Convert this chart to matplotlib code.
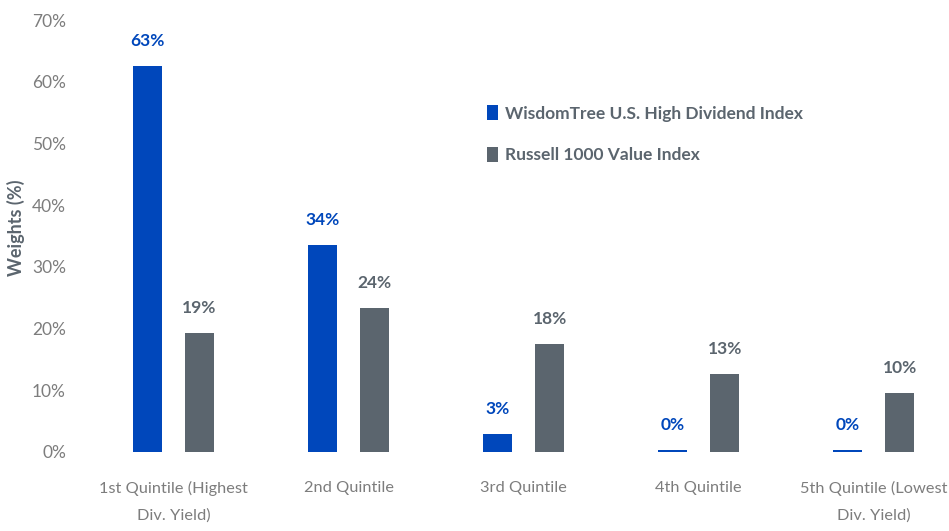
import matplotlib
matplotlib.use("Agg")
import matplotlib.pyplot as plt
import numpy as np

categories = ["1st Quintile (Highest\nDiv. Yield)", "2nd Quintile", "3rd Quintile",
              "4th Quintile", "5th Quintile (Lowest\nDiv. Yield)"]
wisdomtree = [62.5, 33.5, 2.9, 0.25, 0.25]
russell = [19.3, 23.3, 17.5, 12.7, 9.6]
wisdomtree_labels = ["63%", "34%", "3%", "0%", "0%"]
russell_labels = ["19%", "24%", "18%", "13%", "10%"]
yticks = [0, 10, 20, 30, 40, 50, 60, 70]
series_names = ["WisdomTree U.S. High Dividend Index", "Russell 1000 Value Index"]

BLUE = "#0047BB"
GRAY = "#5B656E"
TICK = "#7d7d7d"

plt.rcParams["font.family"] = ["Lato", "DejaVu Sans"]

fig = plt.figure(figsize=(9.49, 5.31), dpi=100)
ax = fig.add_axes([0.09, 0.149, 0.91, 0.813])

x = np.arange(len(categories))
w = 0.166
off = 0.149
b1 = ax.bar(x - off, wisdomtree, w, color=BLUE)
b2 = ax.bar(x + off, russell, w, color=GRAY)

for rect, lab in zip(b1, wisdomtree_labels):
    ax.annotate(lab, (rect.get_x() + rect.get_width() / 2, rect.get_height()),
                xytext=(0, 18), textcoords="offset points", ha="center", va="center",
                color=BLUE, fontsize=12.5, fontweight="bold")
for rect, lab in zip(b2, russell_labels):
    ax.annotate(lab, (rect.get_x() + rect.get_width() / 2, rect.get_height()),
                xytext=(0, 18), textcoords="offset points", ha="center", va="center",
                color=GRAY, fontsize=12.5, fontweight="bold")

ax.set_ylim(0, 70)
ax.set_xlim(-0.503, 4.43)
ax.set_yticks(yticks)
ax.set_yticklabels([f"{t}%" for t in yticks])
ax.set_xticks(x)
ax.set_xticklabels(categories, linespacing=2.1, va="top")
ax.tick_params(axis="both", length=0, colors=TICK, labelsize=12.5)
ax.tick_params(axis="x", labelsize=11.8, pad=21)
ax.tick_params(axis="y", pad=14)
for s in ax.spines.values():
    s.set_visible(False)

ax.set_ylabel("Weights (%)", color=GRAY, fontsize=13, fontweight="bold")
ax.yaxis.set_label_coords(-0.07, 0.52)

leg = ax.legend([b1, b2], series_names, loc="upper left", bbox_to_anchor=(0.447, 0.84),
                frameon=False, handlelength=0.65, handleheight=1.0, handletextpad=0.4,
                labelspacing=1.45, prop={"weight": "bold", "size": 12.5})
for t in leg.get_texts():
    t.set_color(GRAY)

fig.savefig("out.png", dpi=100)
